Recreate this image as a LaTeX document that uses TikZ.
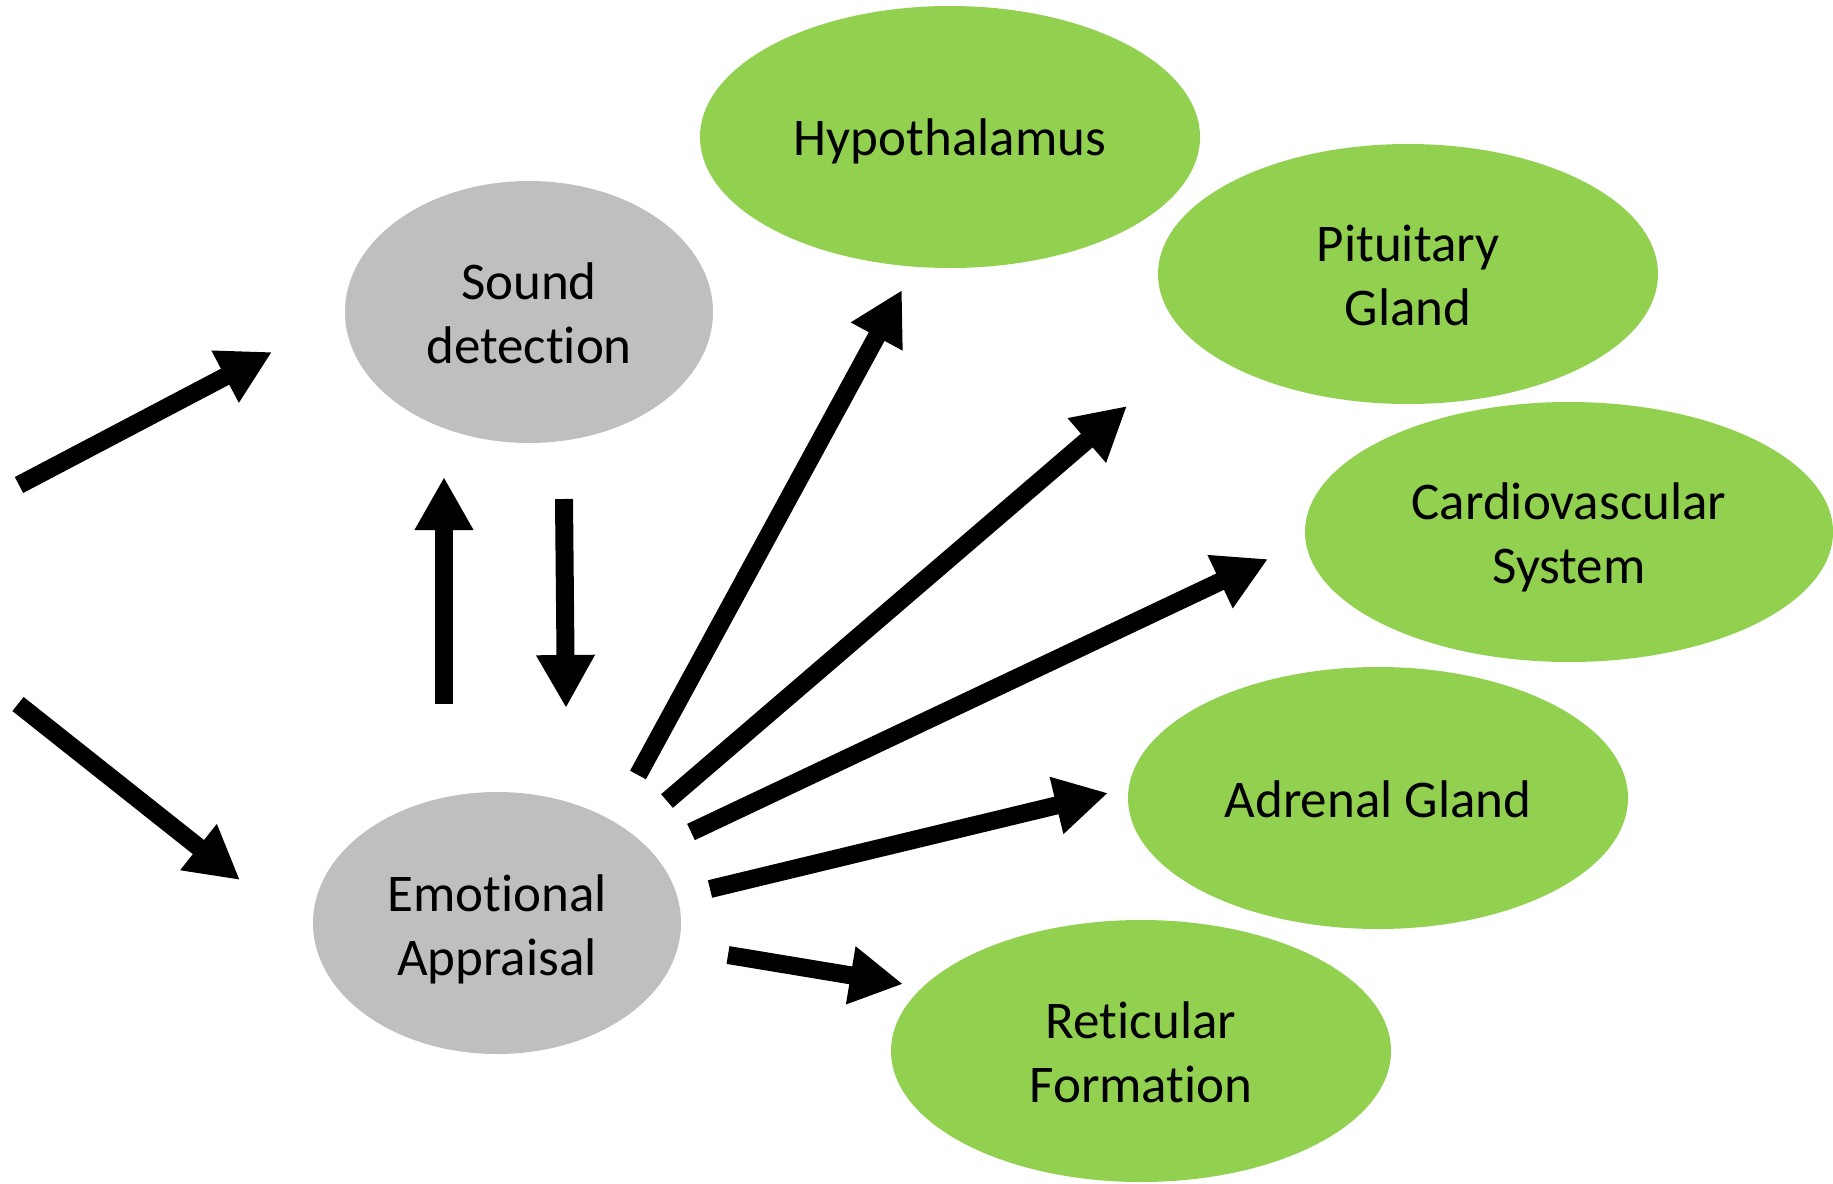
\documentclass[tikz,border=0pt]{standalone}
\usepackage{fontspec}
\setmainfont[Ligatures={NoCommon}]{Carlito}
\usetikzlibrary{arrows.meta,shapes.geometric}
\definecolor{organ}{HTML}{92D050}
\definecolor{stage}{HTML}{BFBFBF}
% two centred lines, baseline on the first one
\newcommand{\twolines}[2]{\begin{tabular}[t]{@{}c@{}}#1\\#2\end{tabular}}
\begin{document}
\begin{tikzpicture}[x=1pt,y=-1pt,
  blob/.style={ellipse,inner sep=0pt},
  greenblob/.style={blob,fill=organ},
  greyblob/.style={blob,fill=stage},
  lbl/.style={anchor=base,inner sep=0pt,font=\fontsize{53}{64}\selectfont},
  bigarrow/.style={line width=18pt,line cap=butt,-{Triangle[length=53pt,width=55pt]}}]
\useasboundingbox (0,0) rectangle (1833,1183);
% the two processing stages
\node[greyblob,minimum width=368pt,minimum height=262pt] (sound) at (529,312) {};
\node[greyblob,minimum width=368pt,minimum height=262pt] (appraisal) at (497,923) {};
% target structures
\node[greenblob,minimum width=500pt,minimum height=262pt] (hypo) at (950,137) {};
\node[greenblob,minimum width=500pt,minimum height=260pt] (pit) at (1408,274) {};
\node[greenblob,minimum width=528pt,minimum height=260pt] (cardio) at (1569,532) {};
\node[greenblob,minimum width=500pt,minimum height=262pt] (adrenal) at (1378,798) {};
\node[greenblob,minimum width=500pt,minimum height=262pt] (retic) at (1141,1051) {};
% labels: first baseline 13 above centre for two lines, 19 below for one
\node[lbl] (soundtxt) at (529,299) {\twolines{Sound}{detection}};
\node[lbl] (appraisaltxt) at (497,911) {\twolines{Emotional}{Appraisal}};
\node[lbl] (hypotxt) at (950,155) {Hypothalamus};
\node[lbl] (pittxt) at (1408,261) {\twolines{Pituitary}{Gland}};
\node[lbl] (cardiotxt) at (1569,519) {\twolines{Cardiovascular}{System}};
\node[lbl] (adrenaltxt) at (1378,817) {Adrenal Gland};
\node[lbl] (retictxt) at (1141,1038) {\twolines{Reticular}{Formation}};
% arrow end points
\coordinate (in1) at (19,485);
\coordinate (in1t) at (272,352);
\coordinate (in2) at (18,704);
\coordinate (in2t) at (240,880);
\coordinate (upA) at (444,704);
\coordinate (upAt) at (444,477);
\coordinate (dnA) at (564,499);
\coordinate (dnAt) at (566,708);
\coordinate (o1) at (638,775);
\coordinate (o1t) at (902,290);
\coordinate (o2) at (667,801);
\coordinate (o2t) at (1127,406);
\coordinate (o3) at (691,832);
\coordinate (o3t) at (1268,559);
\coordinate (o4) at (710,889);
\coordinate (o4t) at (1108,793);
\coordinate (o5) at (728,955);
\coordinate (o5t) at (903,984);
% connectors
\draw[bigarrow] (in1) -- (in1t);
\draw[bigarrow] (in2) -- (in2t);
\draw[bigarrow] (upA) -- (upAt);
\draw[bigarrow] (dnA) -- (dnAt);
\draw[bigarrow] (o1) -- (o1t);
\draw[bigarrow] (o2) -- (o2t);
\draw[bigarrow] (o3) -- (o3t);
\draw[bigarrow] (o4) -- (o4t);
\draw[bigarrow] (o5) -- (o5t);
\end{tikzpicture}
\end{document}
